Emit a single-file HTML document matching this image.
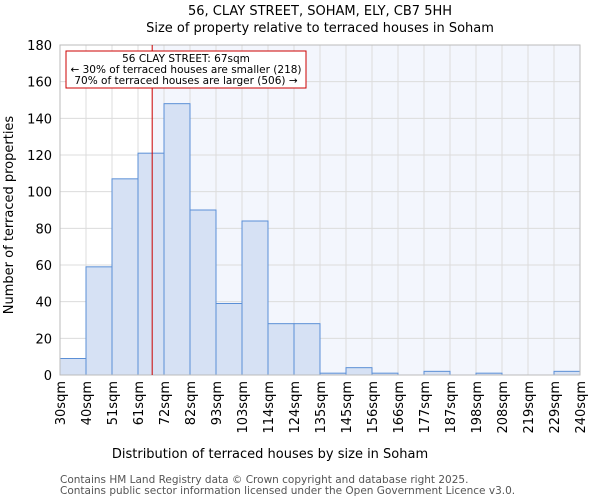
<!DOCTYPE html>
<html><head><meta charset="utf-8"><style>
body{margin:0;background:#fff;font-family:"DejaVu Sans","Liberation Sans",sans-serif;}
</style></head><body>
<svg id="c" width="600" height="500" xmlns="http://www.w3.org/2000/svg" font-family="DejaVu Sans, Liberation Sans, sans-serif">
<text x="320" y="15" text-anchor="middle" font-size="13">56, CLAY STREET, SOHAM, ELY, CB7 5HH</text>
<text x="320" y="32" text-anchor="middle" font-size="13">Size of property relative to terraced houses in Soham</text>
<g id="plot"></g>
<text x="270" y="458" text-anchor="middle" font-size="13">Distribution of terraced houses by size in Soham</text>
<text transform="translate(13,215) rotate(-90)" text-anchor="middle" font-size="13">Number of terraced properties</text>
<text x="60" y="483" font-size="10.5" fill="#555">Contains HM Land Registry data © Crown copyright and database right 2025.</text>
<text x="60" y="494" font-size="10.5" fill="#555">Contains public sector information licensed under the Open Government Licence v3.0.</text>
</svg>
<script>
const binLabels=["30sqm","40sqm","51sqm","61sqm","72sqm","82sqm","93sqm","103sqm","114sqm","124sqm","135sqm","145sqm","156sqm","166sqm","177sqm","187sqm","198sqm","208sqm","219sqm","229sqm","240sqm"];
const counts=[9,59,107,121,148,90,39,84,28,28,1,4,1,0,2,0,1,0,0,2];
const yTicks=[0,20,40,60,80,100,120,140,160,180];
const markerValue=67;
const binEdges=[30,40,51,61,72,82,93,103,114,124,135,145,156,166,177,187,198,208,219,229,240];
const NS="http://www.w3.org/2000/svg";
const L=60,R=580,T=45,B=375;
const bw=(R-L)/counts.length;
const x=i=>L+i*bw;
const y=v=>B-(v/180)*(B-T);
function xv(v){for(let i=0;i<binEdges.length-1;i++){if(v>=binEdges[i]&&v<=binEdges[i+1])return x(i)+(v-binEdges[i])/(binEdges[i+1]-binEdges[i])*bw;}return L;}
const g=document.getElementById('plot');
function mk(t,a){const e=document.createElementNS(NS,t);for(const k in a)e.setAttribute(k,a[k]);g.appendChild(e);return e;}
const mx=xv(markerValue);
let e;
e=mk('rect',{x:mx,y:T,width:R-mx,height:B-T,fill:'#f3f6fd'});


for(let i=0;i<=counts.length;i++){e=mk('line',{x1:x(i),x2:x(i),y1:T,y2:B,stroke:'#dcdcdc','stroke-width':1});

}
yTicks.forEach(t=>{e=mk('line',{x1:L,x2:R,y1:y(t),y2:y(t),stroke:'#dcdcdc','stroke-width':1});


e=mk('text',{x:L-8,y:y(t)+5,'text-anchor':'end','font-size':13});e.textContent=t;

});
counts.forEach((v,i)=>{e=mk('rect',{x:x(i),y:y(v),width:bw,height:B-y(v),fill:'#d6e1f4',stroke:'#5b8fd6','stroke-width':1});

});
binLabels.forEach((l,i)=>{e=mk('text',{transform:`translate(${x(i)+5},381) rotate(-90)`,'text-anchor':'end','font-size':13});e.textContent=l;

});
e=mk('rect',{x:L,y:T,width:R-L,height:B-T,fill:'none',stroke:'#bbb'});


e=mk('line',{x1:mx,x2:mx,y1:T,y2:B,stroke:'#cc0000','stroke-width':1});


e=mk('rect',{x:66,y:51,width:240,height:37,fill:'#fff',stroke:'#cc0000'});


[["56 CLAY STREET: 67sqm",62],["← 30% of terraced houses are smaller (218)",73],["70% of terraced houses are larger (506) →",84]].forEach(([s,yy])=>{e=mk('text',{x:186,y:yy,'text-anchor':'middle','font-size':10.5});e.textContent=s;

});
</script>
</body></html>
